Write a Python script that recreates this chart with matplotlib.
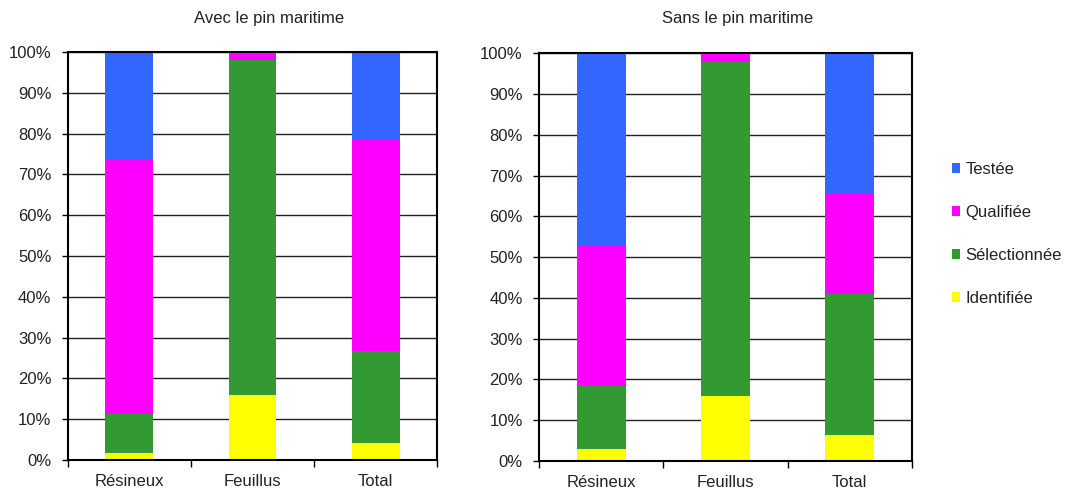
import matplotlib
matplotlib.use("Agg")
import matplotlib.pyplot as plt
from matplotlib.patches import Patch
import numpy as np

plt.rcParams['font.family'] = ['Liberation Sans', 'DejaVu Sans']

categories = ["Résineux", "Feuillus", "Total"]
series = ["Identifiée", "Sélectionnée", "Qualifiée", "Testée"]
colors = ["#FFFF00", "#339933", "#FF00FF", "#3366FF"]

# segment values (%), per category
avec_identifiee = [1.6, 15.9, 4.1]
avec_selectionnee = [9.8, 82.1, 22.6]
avec_qualifiee = [62.4, 2.0, 51.7]
avec_testee = [26.2, 0.0, 21.6]

sans_identifiee = [2.9, 16.0, 6.5]
sans_selectionnee = [15.7, 81.9, 34.4]
sans_qualifiee = [34.2, 2.1, 24.9]
sans_testee = [47.2, 0.0, 34.2]

titles = ["Avec le pin maritime", "Sans le pin maritime"]
yticks = [0, 10, 20, 30, 40, 50, 60, 70, 80, 90, 100]
ytick_labels = [f"{v}%" for v in yticks]

fig = plt.figure(figsize=(10.67, 4.91), dpi=100)
ax1 = fig.add_axes([0.0637, 0.0631, 0.3459, 0.8310])
ax2 = fig.add_axes([0.5055, 0.0611, 0.3489, 0.8303])

data_sets = [
    [avec_identifiee, avec_selectionnee, avec_qualifiee, avec_testee],
    [sans_identifiee, sans_selectionnee, sans_qualifiee, sans_testee],
]

fs = 12
txtcol = "#222222"
x = np.arange(len(categories))
for ax, data, title, tx in zip([ax1, ax2], data_sets, titles, [0.252, 0.691]):
    bottom = np.zeros(len(categories))
    for vals, col in zip(data, colors):
        vals = np.array(vals)
        ax.bar(x, vals, bottom=bottom, width=0.39, color=col, linewidth=0, zorder=3)
        bottom += vals
    ax.set_xlim(-0.5, 2.5)
    ax.set_ylim(0, 100)
    ax.set_yticks(yticks)
    ax.set_yticklabels(ytick_labels, fontsize=fs, color=txtcol)
    ax.set_xticks(x)
    ax.set_xticklabels(categories, fontsize=fs, color=txtcol)
    ax.set_xticks([-0.5, 0.5, 1.5, 2.5], minor=True)
    ax.tick_params(axis='x', which='major', length=0, pad=10)
    ax.tick_params(axis='x', which='minor', length=5, width=1, direction='out')
    ax.tick_params(axis='y', which='major', length=4, width=1, direction='out', pad=8)
    ax.grid(axis='y', color='#222222', linewidth=1, zorder=1)
    ax.set_axisbelow(True)
    for s in ax.spines.values():
        s.set_linewidth(1.5)
        s.set_color('black')
        s.set_zorder(4)
    fig.text(tx, 0.962, title, ha='center', va='center', fontsize=fs, color=txtcol)

handles = [Patch(facecolor=c, edgecolor='none') for c in colors[::-1]]
labels = series[::-1]
leg = fig.legend(handles, labels, loc='upper left', bbox_to_anchor=(0.886, 0.684),
                 frameon=False, fontsize=fs, handlelength=0.5, handleheight=0.5,
                 handletextpad=0.3, labelspacing=1.68, borderaxespad=0)
for t in leg.get_texts():
    t.set_color(txtcol)

fig.savefig("out.png", dpi=100)
